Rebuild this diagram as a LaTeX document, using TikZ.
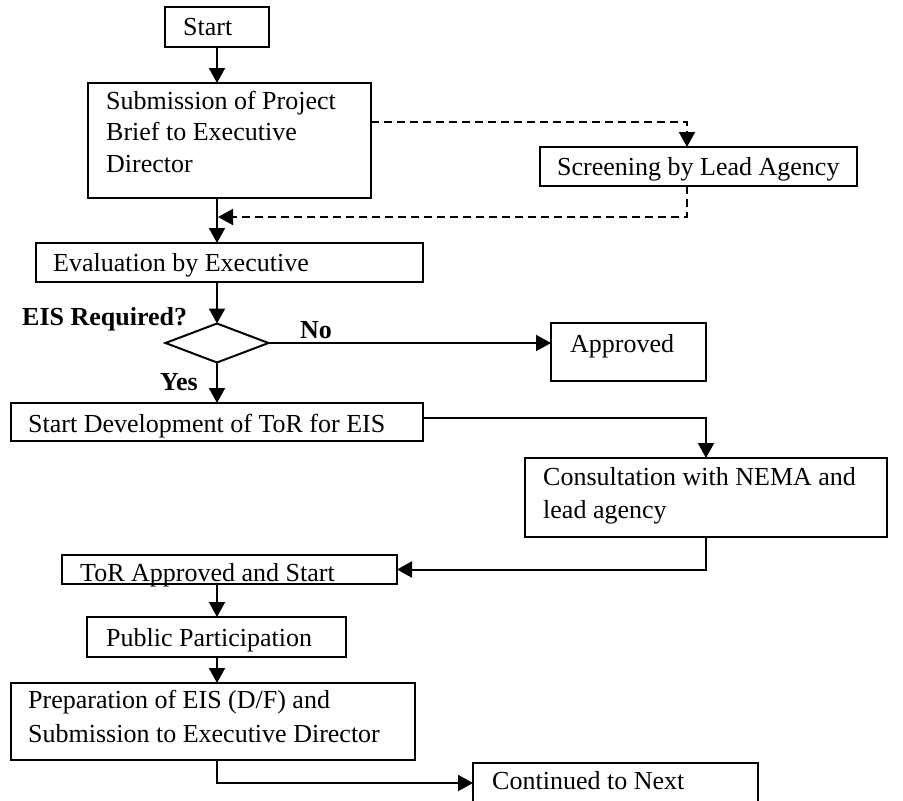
\documentclass[tikz,border=0pt]{standalone}
\usepackage{fontspec}
\setmainfont{Liberation Serif}
\usetikzlibrary{shapes.geometric, arrows.meta, calc}
\begin{document}
\begin{tikzpicture}[x=1pt,y=-1pt,
  box/.style={draw, line width=2pt, inner sep=0pt, outer sep=0pt, anchor=north west},
  txt/.style={inner sep=0pt, anchor=base west, font=\fontsize{26}{32}\selectfont},
  tip/.style={-{Triangle[length=15pt,width=16pt]}},
  arr/.style={line width=2pt, tip},
  ln/.style={line width=2pt},
  dsh/.style={line width=2pt, dash pattern=on 8pt off 5pt}]
\useasboundingbox[fill=white] (0,0) rectangle (903,801);

% boxes
\node[box, minimum width=104pt, minimum height=40pt] (start) at (165,7) {};
\node[box, minimum width=283pt, minimum height=115pt] (sub) at (88,83) {};
\node[box, minimum width=317pt, minimum height=39pt] (scr) at (540,147) {};
\node[box, minimum width=387pt, minimum height=39pt] (eval) at (36,243) {};
\node[draw, line width=2pt, diamond, inner sep=0pt, outer sep=0pt, minimum width=103pt, minimum height=39pt] (dia) at (217,343) {};
\node[box, minimum width=412pt, minimum height=38pt] (dev) at (11,403) {};
\node[box, minimum width=155pt, minimum height=58pt] (appr) at (551,323) {};
\node[box, minimum width=362pt, minimum height=79pt] (cons) at (525,458) {};
\node[box, minimum width=335pt, minimum height=29pt] (tor) at (62,555) {};
\node[box, minimum width=259pt, minimum height=40pt] (pub) at (87,617) {};
\node[box, minimum width=404pt, minimum height=77pt] (prep) at (11,683) {};
\node[box, minimum width=285pt, minimum height=80pt] (cont) at (473,763) {};

% texts
\node[txt] (tStart) at (183,35) {Start};
\node[txt, font=\fontsize{26}{31.5}\selectfont] (tSub) at (106,109) {\begin{tabular}[t]{@{}l@{}}Submission of Project\\Brief to Executive\\Director\end{tabular}};
\node[txt] (tScr) at (557,175) {Screening by Lead Agency};
\node[txt] (tEval) at (53,271) {Evaluation by Executive};
\node[txt, font=\fontsize{26}{32}\selectfont\bfseries] (tQ) at (22,325) {EIS Required?};
\node[txt, font=\fontsize{26}{32}\selectfont\bfseries] (tNo) at (300,338) {No};
\node[txt, font=\fontsize{26}{32}\selectfont\bfseries] (tYes) at (160,390) {Yes};
\node[txt] (tDev) at (28,432) {Start Development of ToR for EIS};
\node[txt] (tAppr) at (570,352) {Approved};
\node[txt, font=\fontsize{26}{33}\selectfont] (tCons) at (543,485) {\begin{tabular}[t]{@{}l@{}}Consultation with NEMA and\\lead agency\end{tabular}};
\node[txt] (tTor) at (80,581) {ToR Approved and Start};
\node[txt] (tPub) at (106,646) {Public Participation};
\node[txt, font=\fontsize{26}{34.5}\selectfont] (tPrep) at (28,708) {\begin{tabular}[t]{@{}l@{}}Preparation of EIS (D/F) and\\Submission to Executive Director\end{tabular}};
\node[txt] (tCont) at (492,789) {Continued to Next};

% connectors
\draw[arr] (start.south) -- (start.south |- sub.north);
\draw[dsh, tip] ($(sub.north east)!0.34!(sub.south east)$) -| ($(scr.north west)+(147,0)$);
\draw[dsh, tip] ($(scr.south west)+(147,0)$) |- ($(start.south |- 0,217)+(1,0)$);
\draw[arr] (sub.south -| start.south) -- (eval.north -| start.south);
\draw[arr] (eval.south -| dia.north) -- (dia.north);
\draw[arr] (dia.east) -- (dia.east -| appr.west);
\draw[arr] (dia.south) -- (dia.south |- dev.north);
\draw[arr] ($(dev.north east)!0.4!(dev.south east)$) -| (cons.north);
\draw[arr] (cons.south) |- ($(tor.north east)!0.5!(tor.south east)$);
\draw[arr] (tor.south -| start.south) -- (pub.north -| start.south);
\draw[arr] (pub.south -| start.south) -- (prep.north -| start.south);
\draw[arr] (prep.south -| start.south) |- ($(cont.north west)+(0,20)$);
\end{tikzpicture}
\end{document}
